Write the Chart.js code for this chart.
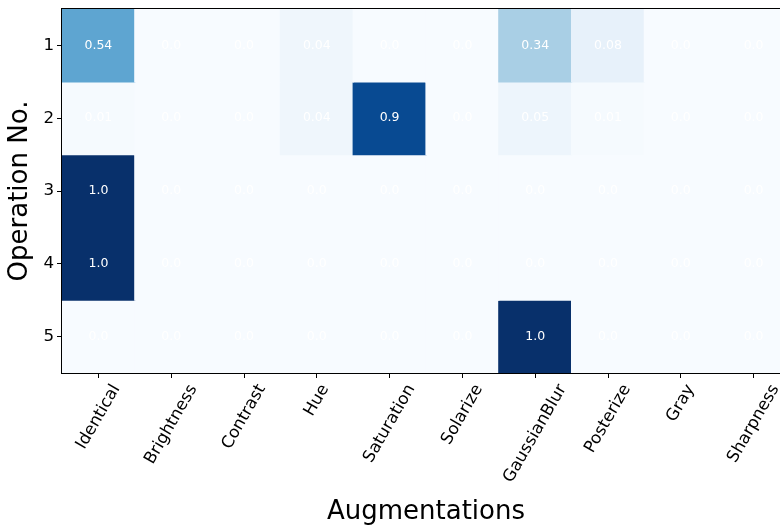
<!DOCTYPE html>
<html>
<head>
<meta charset="utf-8">
<script src="https://cdn.jsdelivr.net/npm/chart.js@4/dist/chart.umd.min.js"></script>
<style>
html,body{margin:0;padding:0;background:#fff;overflow:hidden;}
#wrap{width:780px;height:529px;overflow:hidden;}
canvas{display:block;}
</style>
</head>
<body>
<div id="wrap"><canvas id="c" width="790" height="529"></canvas></div>
<script>
const categories = ['Identical','Brightness','Contrast','Hue','Saturation','Solarize','GaussianBlur','Posterize','Gray','Sharpness'];
const operations = [1, 2, 3, 4, 5];
const op1 = [0.54, 0.0, 0.0, 0.04, 0.0, 0.0, 0.34, 0.08, 0.0, 0.0];
const op2 = [0.01, 0.0, 0.0, 0.04, 0.9, 0.0, 0.05, 0.01, 0.0, 0.0];
const op3 = [1.0, 0.0, 0.0, 0.0, 0.0, 0.0, 0.0, 0.0, 0.0, 0.0];
const op4 = [1.0, 0.0, 0.0, 0.0, 0.0, 0.0, 0.0, 0.0, 0.0, 0.0];
const op5 = [0.0, 0.0, 0.0, 0.0, 0.0, 0.0, 1.0, 0.0, 0.0, 0.0];
const rows = [op1, op2, op3, op4, op5];

const FONT = "'DejaVu Sans', sans-serif";
const BLUES = ['#f7fbff','#deebf7','#c6dbef','#9ecae1','#6baed6','#4292c6','#2171b5','#08519c','#08306b'];
function hex2rgb(h){return [parseInt(h.slice(1,3),16),parseInt(h.slice(3,5),16),parseInt(h.slice(5,7),16)];}
function blues(v){
  v = Math.max(0, Math.min(1, v));
  const p = v * (BLUES.length - 1);
  const i = Math.min(Math.floor(p), BLUES.length - 2);
  const t = p - i;
  const a = hex2rgb(BLUES[i]), b = hex2rgb(BLUES[i+1]);
  const c = a.map((x, k) => Math.round(x + (b[k] - x) * t));
  return `rgb(${c[0]},${c[1]},${c[2]})`;
}
function fmt(v){ return Number.isInteger(v) ? v.toFixed(1) : String(v); }

const datasets = rows.map((vals, r) => ({
  label: 'Operation ' + operations[r],
  data: vals.map(() => [operations[r] - 0.5, operations[r] + 0.5]),
  backgroundColor: vals.map(blues),
  borderWidth: 0,
  grouped: false,
  barPercentage: 1,
  categoryPercentage: 1,
  inflateAmount: 0.6
}));

const overlay = {
  id: 'overlay',
  afterDatasetsDraw(chart) {
    const ctx = chart.ctx, xs = chart.scales.x, ys = chart.scales.y, a = chart.chartArea;
    ctx.save();
    ctx.font = '12.5px ' + FONT;
    ctx.fillStyle = '#ffffff';
    ctx.textAlign = 'center';
    ctx.textBaseline = 'middle';
    rows.forEach((vals, r) => {
      vals.forEach((v, c) => {
        ctx.fillText(fmt(v), xs.getPixelForValue(c), ys.getPixelForValue(operations[r]));
      });
    });
    ctx.strokeStyle = '#000';
    ctx.lineWidth = 1;
    ctx.strokeRect(Math.round(a.left) - 0.5, Math.round(a.top) - 0.5, Math.round(a.right - a.left) + 1, Math.round(a.bottom - a.top) + 1);
    // rotated x tick labels, centred on tick like matplotlib (rotation=60, ha=center)
    ctx.fillStyle = '#000';
    ctx.font = '16.7px ' + FONT;
    const fh = 16.7 * 0.95;
    const ang = 60 * Math.PI / 180;
    const yTop = a.bottom + 5 + 4;
    categories.forEach((lab, c) => {
      const w = ctx.measureText(lab).width;
      const bh = w * Math.sin(ang) + fh * Math.cos(ang);
      const cx = xs.getPixelForValue(c);
      const cy = yTop + bh / 2;
      ctx.save();
      ctx.translate(cx, cy);
      ctx.rotate(-ang);
      ctx.fillText(lab, 0, 0);
      ctx.restore();
    });
    ctx.restore();
  }
};

new Chart(document.getElementById('c'), {
  type: 'bar',
  data: { labels: categories, datasets },
  options: {
    responsive: false,
    animation: false,
    layout: { padding: { top: 9, right: 0, left: 0, bottom: 0 } },
    plugins: { legend: { display: false }, tooltip: { enabled: false } },
    scales: {
      x: {
        type: 'category',
        offset: true,
        grid: { drawOnChartArea: false, drawTicks: true, tickLength: 5, tickColor: '#000', offset: false, tickWidth: 1 },
        border: { display: false },
        ticks: { display: false },
        title: { display: true, text: 'Augmentations', color: '#000', font: { family: FONT, size: 26 }, padding: { top: 0, bottom: 1 } },
        afterFit(s) { s.height = 156; s.paddingLeft = 0; s.paddingRight = 0; }
      },
      y: {
        type: 'linear',
        reverse: true,
        min: 0.5,
        max: 5.5,
        afterBuildTicks(s) { s.ticks = operations.map(v => ({ value: v })); },
        grid: { drawOnChartArea: false, drawTicks: true, tickLength: 5, tickColor: '#000', tickWidth: 1 },
        border: { display: false },
        ticks: { color: '#000', font: { family: FONT, size: 16.7 }, padding: 3, callback: v => String(v) },
        title: { display: true, text: 'Operation No.', color: '#000', font: { family: FONT, size: 26 }, padding: { top: 5, bottom: 0 } },
        afterFit(s) { s.width = 62; s.paddingTop = 0; s.paddingBottom = 0; }
      }
    }
  },
  plugins: [overlay]
});
</script>
</body>
</html>
